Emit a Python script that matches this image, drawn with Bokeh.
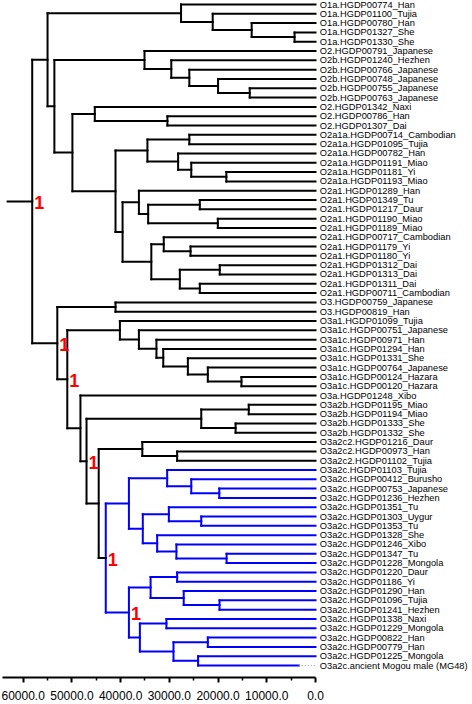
from bokeh.plotting import figure
from bokeh.models import Range1d, FixedTicker, PrintfTickFormatter
from bokeh.core.properties import value
from bokeh.embed import file_html
from bokeh.resources import INLINE

# ---------------- data ----------------
leaf_labels = [
    "O1a.HGDP00774_Han", "O1a.HGDP01100_Tujia", "O1a.HGDP00780_Han", "O1a.HGDP01327_She",
    "O1a.HGDP01330_She", "O2.HGDP00791_Japanese", "O2b.HGDP01240_Hezhen", "O2b.HGDP00766_Japanese",
    "O2b.HGDP00748_Japanese", "O2b.HGDP00755_Japanese", "O2b.HGDP00763_Japanese", "O2.HGDP01342_Naxi",
    "O2.HGDP00786_Han", "O2.HGDP01307_Dai", "O2a1a.HGDP00714_Cambodian", "O2a1a.HGDP01095_Tujia",
    "O2a1a.HGDP00782_Han", "O2a1a.HGDP01191_Miao", "O2a1a.HGDP01181_Yi", "O2a1a.HGDP01193_Miao",
    "O2a1.HGDP01289_Han", "O2a1.HGDP01349_Tu", "O2a1.HGDP01217_Daur", "O2a1.HGDP01190_Miao",
    "O2a1.HGDP01189_Miao", "O2a1.HGDP00717_Cambodian", "O2a1.HGDP01179_Yi", "O2a1.HGDP01180_Yi",
    "O2a1.HGDP01312_Dai", "O2a1.HGDP01313_Dai", "O2a1.HGDP01311_Dai", "O2a1.HGDP00711_Cambodian",
    "O3.HGDP00759_Japanese", "O3.HGDP00819_Han", "O3a1.HGDP01099_Tujia", "O3a1c.HGDP00751_Japanese",
    "O3a1c.HGDP00971_Han", "O3a1c.HGDP01294_Han", "O3a1c.HGDP01331_She", "O3a1c.HGDP00764_Japanese",
    "O3a1c.HGDP00124_Hazara", "O3a1c.HGDP00120_Hazara", "O3a.HGDP01248_Xibo", "O3a2b.HGDP01195_Miao",
    "O3a2b.HGDP01194_Miao", "O3a2b.HGDP01333_She", "O3a2b.HGDP01332_She", "O3a2c2.HGDP01216_Daur",
    "O3a2c2.HGDP00973_Han", "O3a2c2.HGDP01102_Tujia", "O3a2c.HGDP01103_Tujia", "O3a2c.HGDP00412_Burusho",
    "O3a2c.HGDP00753_Japanese", "O3a2c.HGDP01236_Hezhen", "O3a2c.HGDP01351_Tu", "O3a2c.HGDP01303_Uygur",
    "O3a2c.HGDP01353_Tu", "O3a2c.HGDP01328_She", "O3a2c.HGDP01246_Xibo", "O3a2c.HGDP01347_Tu",
    "O3a2c.HGDP01228_Mongola", "O3a2c.HGDP01220_Daur", "O3a2c.HGDP01186_Yi", "O3a2c.HGDP01290_Han",
    "O3a2c.HGDP01096_Tujia", "O3a2c.HGDP01241_Hezhen", "O3a2c.HGDP01338_Naxi", "O3a2c.HGDP01229_Mongola",
    "O3a2c.HGDP00822_Han", "O3a2c.HGDP00779_Han", "O3a2c.HGDP01225_Mongola", "O3a2c.ancient Mogou male (MG48)",
]
# tip ages (years); only the ancient sample is not at present
leaf_ages = [0] * 71 + [3430]

# internal nodes: (name, child 1, child 2, age in years)
merges = [
    ("a1", 3, 4, 4300), ("a2", 2, "a1", 13100), ("a3", 1, "a2", 21100), ("a4", 0, "a3", 27600),
    ("b1", 9, 10, 13500), ("b2", 8, "b1", 20000), ("b3", 7, "b2", 25900), ("b4", 6, "b3", 29600),
    ("b5", 5, "b4", 35100),
    ("c1", 12, 13, 30400), ("c2", 11, "c1", 45300),
    ("d1", 14, 15, 25900), ("d2", 18, 19, 18300), ("d3", 17, "d2", 25500), ("d4", 16, "d3", 28200),
    ("d5", "d1", "d4", 34500),
    ("e1", 21, 22, 23750), ("e2", 23, 24, 20050), ("e3", "e1", "e2", 34350), ("e4", 20, "e3", 36250),
    ("f1", 26, 27, 25650), ("f2", 25, "f1", 31150), ("f3", 28, 29, 19650), ("f4", 30, 31, 23750),
    ("f5", "f3", "f4", 27850), ("f6", "f2", "f5", 33700),
    ("g1", "e4", "f6", 39600), ("g2", "d5", "g1", 41050), ("g3", "c2", "g2", 49900),
    ("g4", "b5", "g3", 53600), ("g5", "a4", "g4", 55000),
    ("h1", 32, 33, 41050),
    ("i1", 40, 41, 15200), ("i2", 39, "i1", 22100), ("i3", 38, "i2", 26200), ("i4", 37, "i3", 31250),
    ("i5", 36, "i4", 32650), ("i6", 35, "i5", 36250), ("i7", 34, "i6", 40150),
    ("j1", 43, 44, 13700), ("j2", 45, 46, 16400), ("j3", "j1", "j2", 23450),
    ("k1", 48, 49, 28400), ("k2", 47, "k1", 35550),
    ("m1", 52, 53, 19750), ("m2", 51, "m1", 25500), ("m3", 50, "m2", 30450),
    ("m4", 55, 56, 23450), ("m5", 54, "m4", 30100),
    ("m6", 59, 60, 18250), ("m7", 58, "m6", 28550), ("m8", 57, "m7", 32500),
    ("m9", "m5", "m8", 35450), ("m10", "m3", "m9", 38300),
    ("n1", 61, 62, 28400), ("n2", 64, 65, 19700), ("n3", 63, "n2", 27050), ("n4", "n1", "n3", 33850),
    ("n5", 66, 67, 30600), ("n6", 68, 69, 22100), ("n7", 70, 71, 24100), ("n8", "n6", "n7", 29150),
    ("n9", "n5", "n8", 36050), ("n10", "n4", "n9", 38300),
    ("n11", "m10", "n10", 43050),
    ("k3", "k2", "n11", 44500), ("k4", "j3", "k3", 47000), ("k5", 42, "k4", 48250),
    ("k6", "i7", "k5", 50950), ("k7", "h1", "k6", 53000),
    ("root", "g5", "k7", 58150),
]
root_stub_age = 63200
highlight_clade = "n11"          # clade drawn in blue
support_nodes = ["root", "k7", "k6", "k4", "n11", "n10"]
support_values = ["1", "1", "1", "1", "1", "1"]

major_ticks = [0, 10000, 20000, 30000, 40000, 50000, 60000]
minor_ticks = [5000, 15000, 25000, 35000, 45000, 55000]

# ---------------- layout of the tree ----------------
node_y = {i: float(i) for i in range(len(leaf_labels))}
node_age = {i: float(a) for i, a in enumerate(leaf_ages)}
children = {}
for name, c1, c2, age in merges:
    node_y[name] = (node_y[c1] + node_y[c2]) / 2.0
    node_age[name] = float(age)
    children[name] = (c1, c2)

blue = set()
stack = [highlight_clade]
while stack:
    n = stack.pop()
    blue.add(n)
    if n in children:
        stack.extend(children[n])

BLACK = "#000000"
BLUE = "#0000ff"
x0s, y0s, x1s, y1s, cols = [], [], [], [], []
for name, c1, c2, age in merges:
    col = BLUE if name in blue else BLACK
    x0s.append(age); y0s.append(node_y[c1]); x1s.append(age); y1s.append(node_y[c2]); cols.append(col)
    for c in (c1, c2):
        x0s.append(node_age[c]); y0s.append(node_y[c]); x1s.append(age); y1s.append(node_y[c]); cols.append(col)
# root stub
x0s.append(root_stub_age); y0s.append(node_y["root"]); x1s.append(node_age["root"]); y1s.append(node_y["root"]); cols.append(BLACK)

# ---------------- figure ----------------
FW, FH = 472, 677
px_per_year = 48.717 / 10000.0
zero_px = 315.0                       # pixel of age 0 inside the frame
x_left = zero_px / px_per_year
x_right = (zero_px - FW) / px_per_year
first_px, spacing = 4.0, 9.31
top_val = -first_px / spacing
bot_val = (FH - first_px) / spacing

p = figure(frame_width=FW, frame_height=FH, output_backend="svg", toolbar_location=None,
           x_range=Range1d(x_left, x_right), y_range=Range1d(bot_val, top_val),
           y_axis_location=None, min_border=0, min_border_left=0, min_border_right=0,
           min_border_top=0, min_border_bottom=0)
p.outline_line_color = None
p.grid.visible = False
p.background_fill_color = "white"
p.border_fill_color = "white"

p.segment(x0=x0s, y0=y0s, x1=x1s, y1=y1s, color=cols, line_width=2, line_cap="square")

# dotted tip for ancient sample
anc = len(leaf_labels) - 1
p.segment(x0=[leaf_ages[anc]], y0=[anc], x1=[0], y1=[anc], line_color="#999999",
          line_width=1, line_dash="1 2")

p.text(x=[0] * len(leaf_labels), y=list(range(len(leaf_labels))), text=leaf_labels,
       x_offset=4.3, text_align="left", text_baseline="middle",
       text_font=value("Liberation Sans"), text_font_size="9.3px", text_color="#000000")

p.text(x=[node_age[n] for n in support_nodes], y=[node_y[n] for n in support_nodes],
       text=support_values, x_offset=2, y_offset=1, text_align="left", text_baseline="middle",
       text_font=value("Liberation Sans"), text_font_size="18px", text_font_style="bold",
       text_color="#ff0000")

ax = p.xaxis[0]
ax.ticker = FixedTicker(ticks=major_ticks, minor_ticks=minor_ticks)
ax.formatter = PrintfTickFormatter(format="%.1f")
ax.bounds = (0, 64300)
ax.axis_line_width = 2
ax.axis_line_color = "black"
ax.major_tick_in = 0
ax.major_tick_out = 5
ax.major_tick_line_width = 2
ax.minor_tick_in = 0
ax.minor_tick_out = 3
ax.minor_tick_line_width = 1.5
ax.major_label_standoff = 8
ax.major_label_text_font = "Liberation Sans"
ax.major_label_text_font_size = "12px"
ax.major_label_text_color = "#000000"

open("out.html", "w").write(file_html(p, INLINE))
